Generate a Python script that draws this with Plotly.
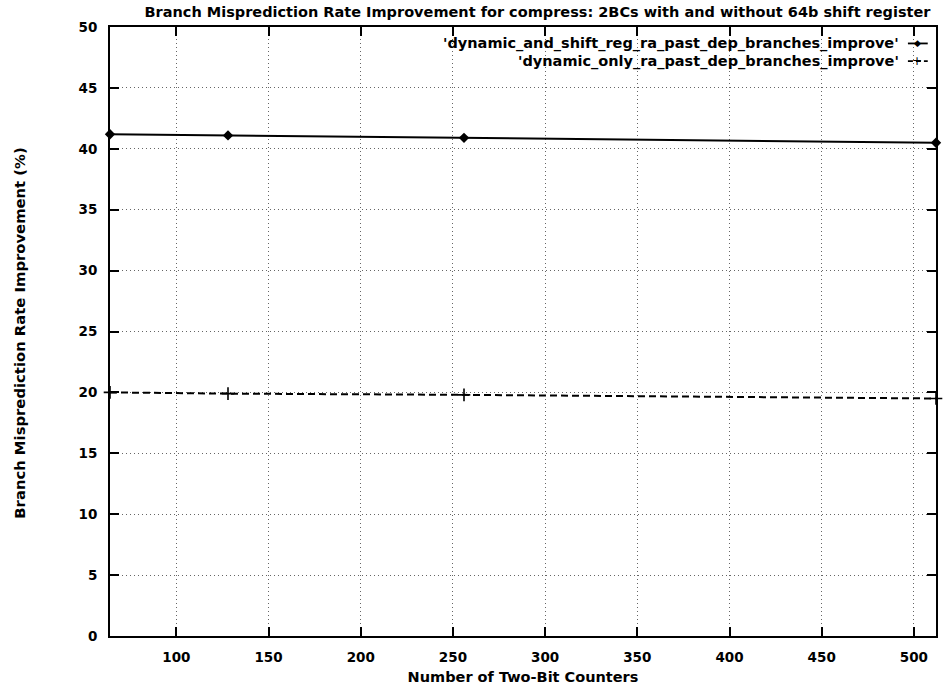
import plotly.graph_objects as go

counters = [64, 128, 256, 512]
with_shift = [41.2, 41.1, 40.9, 40.5]
dyn_only = [20.0, 19.9, 19.8, 19.5]
name_with = "'dynamic_and_shift_reg_ra_past_dep_branches_improve'"
name_only = "'dynamic_only_ra_past_dep_branches_improve'"
x_ticks = [100, 150, 200, 250, 300, 350, 400, 450, 500]
y_ticks = [0, 5, 10, 15, 20, 25, 30, 35, 40, 45, 50]

font = "DejaVu Sans, sans-serif"

fig = go.Figure()
fig.add_trace(go.Scatter(
    x=counters, y=with_shift, mode="lines+markers", name=name_with,
    line=dict(color="black", width=2),
    marker=dict(symbol="diamond", size=8, color="black"),
    cliponaxis=False))
fig.add_trace(go.Scatter(
    x=counters, y=dyn_only, mode="lines+markers", name=name_only,
    line=dict(color="black", width=2, dash="7px,4px"),
    marker=dict(symbol="cross-thin", size=9, color="black",
                line=dict(color="black", width=1.6)),
    cliponaxis=False))

axis_common = dict(
    showline=True, linecolor="black", linewidth=2, mirror="ticks",
    ticks="inside", ticklen=9, tickcolor="black", tickwidth=1.6,
    showgrid=True, gridcolor="#666", griddash="1px,3px", gridwidth=1,
    zeroline=False, tickfont=dict(family=font, size=13.5, color="black", weight="bold"),
)
fig.update_xaxes(range=[64, 512], tickvals=x_ticks, ticklabelstandoff=8,
                 title=dict(text="Number of Two-Bit Counters", standoff=8,
                            font=dict(family=font, size=14.5, color="black", weight="bold")),
                 **axis_common)
fig.update_yaxes(range=[0, 50], tickvals=y_ticks, ticklabelstandoff=8, **axis_common)

# y-axis title placed to match the reference position
fig.add_annotation(xref="paper", yref="paper", x=-0.109, y=0.498, xanchor="center", yanchor="middle",
                   text="Branch Misprediction Rate Improvement (%)", textangle=-90, showarrow=False,
                   font=dict(family=font, size=14.8, color="black", weight="bold"))

# legend rendered as right-aligned text with sample on the right
lg_font = dict(family=font, size=14.5, color="black", weight="bold")
fig.add_annotation(xref="paper", yref="paper", x=0.958, y=0.973, xanchor="right", yanchor="middle",
                   text=name_with, showarrow=False, font=lg_font)
fig.add_annotation(xref="paper", yref="paper", x=0.958, y=0.944, xanchor="right", yanchor="middle",
                   text=name_only, showarrow=False, font=lg_font)
fig.add_shape(type="line", xref="paper", yref="paper", x0=0.966, x1=0.99, y0=0.973, y1=0.973,
              line=dict(color="black", width=1.8))
fig.add_shape(type="line", xref="paper", yref="paper", x0=0.966, x1=0.99, y0=0.944, y1=0.944,
              line=dict(color="black", width=1.8, dash="5px,3px"))
fig.add_annotation(xref="paper", yref="paper", x=0.977, y=0.973, xanchor="center", yanchor="middle",
                   text="◆", showarrow=False, font=dict(family="DejaVu Sans", size=9, color="black"))
fig.add_annotation(xref="paper", yref="paper", x=0.977, y=0.944, xanchor="center", yanchor="middle",
                   text="+", showarrow=False, font=dict(family="DejaVu Sans", size=12, color="black"))

fig.update_layout(
    width=943, height=694,
    margin=dict(l=110, r=5, t=27, b=58),
    paper_bgcolor="white", plot_bgcolor="white",
    showlegend=False,
    title=dict(text="Branch Misprediction Rate Improvement for compress: 2BCs with and without 64b shift register",
               x=0.57, xanchor="center", y=0.99, yanchor="top",
               font=dict(family=font, size=14.5, color="black", weight="bold")),
)

fig.write_html("out.html")
